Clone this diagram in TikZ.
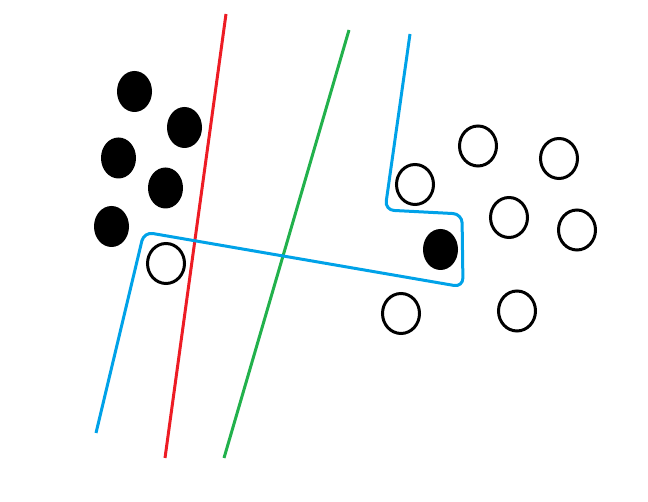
\documentclass[tikz,border=0pt]{standalone}
\usetikzlibrary{shapes.geometric}
\definecolor{pred}{RGB}{237,28,36}
\definecolor{pgreen}{RGB}{34,177,76}
\definecolor{pblue}{RGB}{0,162,232}
\tikzset{
  blackdot/.style={ellipse, fill=black, minimum width=35pt, minimum height=41pt, inner sep=0pt},
  whitedot/.style={ellipse, draw=black, line width=3pt, minimum width=37pt, minimum height=40pt, inner sep=0pt},
  sepline/.style={line width=3pt}
}
\begin{document}
\begin{tikzpicture}[x=1pt,y=-1pt]
\useasboundingbox (0,0) rectangle (648,502);
% filled
\node[blackdot] (b1) at (134.5,91.5) {};
\node[blackdot] (b2) at (184.5,127.5) {};
\node[blackdot] (b3) at (118.5,158) {};
\node[blackdot] (b4) at (165.5,188) {};
\node[blackdot] (b5) at (111.5,226.5) {};
\node[blackdot] (b6) at (440.5,249.5) {};
% open
\node[whitedot] (w1) at (166,263.5) {};
\node[whitedot] (w2) at (478,146) {};
\node[whitedot] (w3) at (559,158.5) {};
\node[whitedot] (w4) at (415,184.5) {};
\node[whitedot] (w5) at (509,217.5) {};
\node[whitedot] (w6) at (577,230) {};
\node[whitedot] (w7) at (401,313.5) {};
\node[whitedot] (w8) at (517,311) {};
% lines
\coordinate (r1) at (226,14);
\coordinate (r2) at (165,458);
\coordinate (g1) at (349,30);
\coordinate (g2) at (224,458);
\draw[sepline, pred] (r1) -- (r2);
\draw[sepline, pgreen] (g1) -- (g2);
\coordinate (p0) at (96,433);
\coordinate (p1) at (144,232);
\coordinate (p2) at (463,287);
\coordinate (p3) at (462,214);
\coordinate (p4) at (385,210);
\coordinate (p5) at (410,34);
\draw[sepline, pblue, rounded corners=9pt] (p0) -- (p1) -- (p2) -- (p3) -- (p4) -- (p5);
\end{tikzpicture}
\end{document}
